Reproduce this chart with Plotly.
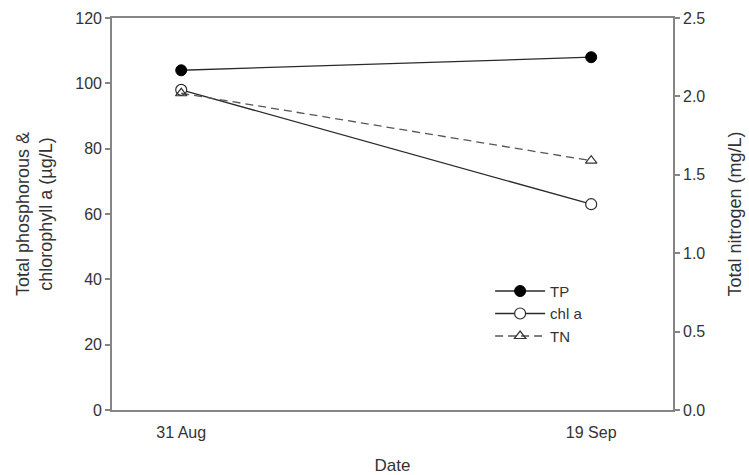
import plotly.graph_objects as go

dates = ["2023-08-31", "2023-09-19"]
tick_labels = ["31 Aug", "19 Sep"]
tp = [104, 108]
chla = [98, 63]
tn = [2.02, 1.59]

line_col = "#2a2a2a"
axis_col = "#858585"
font = dict(family="Liberation Sans, Arial, sans-serif", size=16, color="#333333")

fig = go.Figure()
fig.add_trace(go.Scatter(x=dates, y=tp, name="TP", mode="lines+markers",
                         line=dict(color=line_col, width=1.3),
                         marker=dict(symbol="circle", size=11, color="#000000",
                                     line=dict(color="#000000", width=1))))
fig.add_trace(go.Scatter(x=dates, y=chla, name="chl a", mode="lines+markers",
                         line=dict(color=line_col, width=1.3),
                         marker=dict(symbol="circle", size=11, color="white",
                                     line=dict(color=line_col, width=1.2))))
fig.add_trace(go.Scatter(x=dates, y=tn, name="TN", mode="lines+markers", yaxis="y2",
                         line=dict(color="#555555", width=1.3, dash="8px,5px"),
                         marker=dict(symbol="triangle-up-open", size=10, color="#333333",
                                     line=dict(color=line_col, width=1.2))))

fig.update_layout(
    width=749, height=475,
    margin=dict(l=112, r=76, t=18, b=65, autoexpand=False),
    paper_bgcolor="white", plot_bgcolor="white",
    font=font,
    showlegend=True,
    legend=dict(x=0.674, y=0.345, xanchor="left", yanchor="top",
                bgcolor="rgba(0,0,0,0)", font=dict(size=15, color="#333333"),
                tracegroupgap=0, itemwidth=50),
    xaxis=dict(type="date", range=["2023-08-27 19:00", "2023-09-22 19:00"],
               automargin=False,
               tickvals=dates, ticktext=tick_labels, ticks="outside", ticklen=7,
               tickcolor="rgba(0,0,0,0)", showgrid=False,
               zeroline=False, showline=True, linecolor=axis_col, linewidth=1.6,
               mirror=True,
               title=dict(text="Date", standoff=20, font=dict(size=17))),
    yaxis=dict(range=[0, 120], dtick=20, ticks="outside", ticklen=5, tickcolor=axis_col,
               tickwidth=1.5, automargin=False,
               showgrid=False, zeroline=False, showline=True, linecolor=axis_col,
               linewidth=1.6,
               title=dict(text="Total phosphorous &<br>chlorophyll a (µg/L)", standoff=18,
                          font=dict(size=18))),
    yaxis2=dict(range=[0, 2.5], dtick=0.5, tickformat=".1f", overlaying="y", side="right",
                automargin=False,
                ticks="outside", ticklen=5, tickcolor=axis_col, tickwidth=1.5, showgrid=False,
                zeroline=False, showline=True, linecolor=axis_col, linewidth=1.6,
                title=dict(text="Total nitrogen (mg/L)", standoff=24, font=dict(size=18))),
)

fig.write_html("out.html")
